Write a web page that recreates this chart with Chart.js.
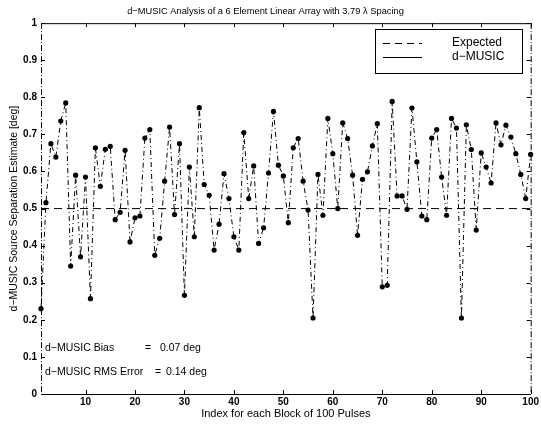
<!DOCTYPE html>
<html>
<head>
<meta charset="utf-8">
<script src="https://cdn.jsdelivr.net/npm/chart.js@4/dist/chart.umd.min.js"></script>
<style>
  html, body { margin: 0; padding: 0; background: #fff; }
  #wrap { width: 541px; height: 426px; }
</style>
</head>
<body>
<div id="wrap"><canvas id="c" width="541" height="426"></canvas></div>
<script>
// ---- data ----
const blockIndex = Array.from({ length: 100 }, (_, i) => i + 1);
const musicEstimate = [
  0.23, 0.516, 0.675, 0.639, 0.736, 0.785, 0.345, 0.59, 0.37, 0.585,
  0.257, 0.664, 0.56, 0.66, 0.668, 0.47, 0.49, 0.657, 0.41, 0.475,
  0.48, 0.69, 0.713, 0.374, 0.42, 0.574, 0.72, 0.484, 0.675, 0.266,
  0.612, 0.424, 0.772, 0.565, 0.536, 0.388, 0.458, 0.594, 0.527, 0.424,
  0.388, 0.705, 0.527, 0.615, 0.406, 0.448, 0.596, 0.762, 0.617, 0.588,
  0.462, 0.664, 0.689, 0.574, 0.496, 0.205, 0.592, 0.482, 0.743, 0.648,
  0.5, 0.731, 0.689, 0.59, 0.428, 0.579, 0.599, 0.669, 0.729, 0.289,
  0.293, 0.789, 0.534, 0.534, 0.498, 0.771, 0.626, 0.48, 0.47, 0.69,
  0.713, 0.585, 0.482, 0.743, 0.717, 0.205, 0.726, 0.659, 0.442, 0.65,
  0.612, 0.569, 0.731, 0.672, 0.725, 0.693, 0.648, 0.592, 0.527, 0.646
];
const expectedX = [1, 100];
const expectedValue = [0.5, 0.5];
const xTickValues = [10, 20, 30, 40, 50, 60, 70, 80, 90, 100];
const yTickValues = [0, 0.1, 0.2, 0.3, 0.4, 0.5, 0.6, 0.7, 0.8, 0.9, 1];
const titleText = 'd\u2212MUSIC Analysis of a 6 Element Linear Array with 3.79 \u03bb Spacing';
const xTitle = 'Index for each Block of 100 Pulses';
const yTitle = 'd\u2212MUSIC Source Separation Estimate [deg]';
const legendLabels = ['Expected', 'd\u2212MUSIC'];
const biasText = ['d\u2212MUSIC Bias', '=', '0.07 deg'];
const rmsText = ['d\u2212MUSIC RMS Error', '=', '0.14 deg'];

const FONT = '"Liberation Sans", Arial, Helvetica, sans-serif';

const musicPoints = musicEstimate.map((v, i) => ({ x: blockIndex[i], y: v }));
const expectedPoints = expectedValue.map((v, i) => ({ x: expectedX[i], y: v }));

const framePlugin = {
  id: 'frame',
  afterDatasetsDraw(chart) {
    const ctx = chart.ctx;
    const a = chart.chartArea;
    const xs = chart.scales.x, ys = chart.scales.y;
    ctx.save();
    ctx.strokeStyle = '#000';
    ctx.lineWidth = 1;
    ctx.beginPath();
    ctx.moveTo(a.left, a.top + 0.5); ctx.lineTo(a.right, a.top + 0.5);
    ctx.moveTo(a.left, a.bottom + 0.5); ctx.lineTo(a.right, a.bottom + 0.5);
    ctx.stroke();
    ctx.setLineDash([6, 2, 1, 2]);
    ctx.beginPath();
    ctx.moveTo(a.left + 0.5, a.top); ctx.lineTo(a.left + 0.5, a.bottom);
    ctx.moveTo(a.right + 0.5, a.top); ctx.lineTo(a.right + 0.5, a.bottom);
    ctx.stroke();
    ctx.setLineDash([]);
    const tl = 4;
    ctx.beginPath();
    yTickValues.forEach(v => {
      const y = Math.round(ys.getPixelForValue(v)) + 0.5;
      ctx.moveTo(a.left, y); ctx.lineTo(a.left + tl, y);
      ctx.moveTo(a.right, y); ctx.lineTo(a.right - tl, y);
    });
    xTickValues.forEach(v => {
      const x = Math.round(xs.getPixelForValue(v)) + 0.5;
      ctx.moveTo(x, a.bottom); ctx.lineTo(x, a.bottom - tl);
      ctx.moveTo(x, a.top); ctx.lineTo(x, a.top + tl);
    });
    ctx.stroke();
    ctx.restore();
  },
  afterDraw(chart) {
    const ctx = chart.ctx;
    ctx.save();
    const lx = 375, ly = 29, lw = 147, lh = 44;
    ctx.fillStyle = '#fff';
    ctx.fillRect(lx, ly, lw, lh);
    ctx.strokeStyle = '#000';
    ctx.lineWidth = 1;
    ctx.strokeRect(lx + 0.5, ly + 0.5, lw, lh);
    ctx.beginPath();
    ctx.setLineDash([7, 5]);
    ctx.moveTo(383, 43.5); ctx.lineTo(422, 43.5);
    ctx.stroke();
    ctx.setLineDash([]);
    ctx.beginPath();
    ctx.moveTo(383, 57.5); ctx.lineTo(422, 57.5);
    ctx.stroke();
    ctx.fillStyle = '#000';
    ctx.font = '12px ' + FONT;
    ctx.textBaseline = 'middle';
    ctx.textAlign = 'left';
    ctx.fillText(legendLabels[0], 452, 43);
    ctx.fillText(legendLabels[1], 452, 57);
    ctx.font = '10.5px ' + FONT;
    ctx.fillText(biasText[0], 45, 348);
    ctx.fillText(biasText[1], 145, 348);
    ctx.fillText(biasText[2], 160, 348);
    ctx.fillText(rmsText[0], 45, 372);
    ctx.fillText(rmsText[1], 155, 372);
    ctx.fillText(rmsText[2], 166, 372);
    ctx.restore();
  }
};

new Chart(document.getElementById('c'), {
  type: 'line',
  data: {
    datasets: [
      {
        label: legendLabels[1],
        data: musicPoints,
        borderColor: '#000',
        backgroundColor: '#000',
        borderWidth: 1,
        borderDash: [5, 3, 1, 3],
        pointRadius: 2.6,
        pointBackgroundColor: '#000',
        pointBorderWidth: 0,
        tension: 0,
        fill: false,
        clip: false
      },
      {
        label: legendLabels[0],
        data: expectedPoints,
        borderColor: '#000',
        borderWidth: 1,
        borderDash: [8, 5],
        pointRadius: 0,
        tension: 0,
        fill: false
      }
    ]
  },
  options: {
    responsive: false,
    animation: false,
    devicePixelRatio: 1,
    layout: { padding: { left: 0, right: 10, top: 0, bottom: 0 } },
    plugins: {
      legend: { display: false },
      tooltip: { enabled: false },
      title: {
        display: true,
        text: titleText,
        color: '#000',
        font: { family: FONT, size: 9.3, weight: 'normal' },
        padding: { top: 6, bottom: 6 }
      }
    },
    scales: {
      x: {
        type: 'linear',
        min: 1,
        max: 100,
        afterBuildTicks: s => { s.ticks = xTickValues.map(v => ({ value: v })); },
        grid: { display: false, drawTicks: false },
        border: { display: false },
        ticks: { color: '#000', font: { family: FONT, size: 10, weight: 'bold' }, padding: 2, maxRotation: 0, autoSkip: false },
        title: { display: true, text: xTitle, color: '#000', font: { family: FONT, size: 11 }, padding: { top: 0, bottom: 5 } },
        afterFit: s => { s.height = 32; }
      },
      y: {
        min: 0,
        max: 1,
        afterBuildTicks: s => { s.ticks = yTickValues.map(v => ({ value: v })); },
        grid: { display: false, drawTicks: false },
        border: { display: false },
        ticks: {
          color: '#000', font: { family: FONT, size: 10, weight: 'bold' }, padding: 4,
          callback: v => (v === 0 ? '0' : v === 1 ? '1' : v.toFixed(1))
        },
        title: { display: true, text: yTitle, color: '#000', font: { family: FONT, size: 10.5 }, padding: { top: 8, bottom: 0 } },
        afterFit: s => { s.width = 41; }
      }
    }
  },
  plugins: [framePlugin]
});
</script>
</body>
</html>
